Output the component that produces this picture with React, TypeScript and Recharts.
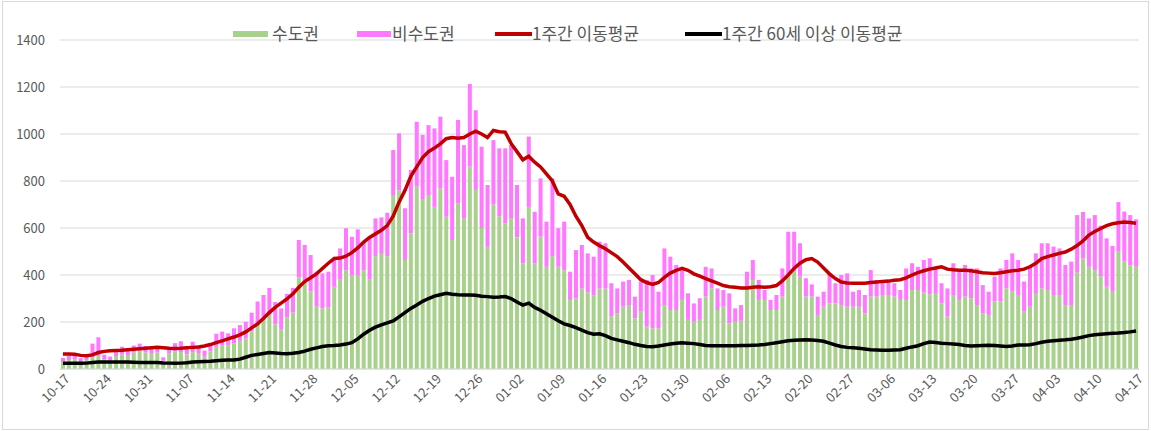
import { ComposedChart, Bar, Line, XAxis, YAxis, CartesianGrid } from "recharts";

// daily domestic cases, 2020-10-17 .. 2021-04-17
const START_DAY = Date.UTC(2020, 9, 17);
const DAY_COUNT = 183;

const capital = [
  30, 38, 40, 30, 38, 48, 55, 42, 35, 55,
  62, 60, 70, 78, 70, 68, 70, 35, 65, 75,
  72, 62, 72, 68, 52, 75, 95, 100, 100, 110,
  120, 130, 160, 190, 210, 230, 190, 170, 220, 240,
  390, 370, 330, 265, 258, 262, 350, 380, 420, 400,
  400, 420, 380, 480, 490, 480, 740, 760, 464, 577,
  776, 720, 740, 690, 769, 648, 549, 705, 641, 861,
  762, 600, 520, 700, 650, 620, 640, 560, 450, 690,
  450, 563, 435, 480, 435, 420, 294, 300, 342, 326,
  314, 342, 342, 223, 237, 265, 272, 216, 244, 180,
  173, 173, 272, 251, 251, 294, 209, 201, 209, 308,
  343, 251, 265, 194, 201, 205, 336, 379, 294, 294,
  251, 251, 308, 393, 414, 393, 308, 308, 230, 265,
  279, 279, 272, 265, 265, 265, 237, 308, 308, 315,
  315, 308, 294, 294, 336, 336, 325, 318, 320, 279,
  223, 315, 294, 308, 301, 272, 237, 230, 287, 287,
  343, 329, 315, 244, 265, 320, 343, 336, 315, 315,
  272, 272, 410, 470, 435, 420, 395, 350, 332, 502,
  457, 440, 435,
];

const nonCapital = [
  17, 20, 17, 16, 20, 60, 80, 19, 18, 30,
  33, 28, 30, 30, 28, 27, 27, 15, 27, 35,
  46, 27, 44, 32, 26, 35, 55, 59, 52, 63,
  67, 71, 80, 97, 105, 115, 95, 88, 100, 105,
  159, 158, 155, 149, 149, 152, 121, 133, 179, 163,
  194, 122, 180, 161, 155, 185, 192, 243, 220, 270,
  276, 276, 298, 334, 305, 241, 269, 355, 312, 352,
  339, 346, 263, 274, 289, 319, 313, 223, 191, 299,
  219, 248, 192, 331, 164, 207, 120, 206, 186, 166,
  164, 200, 193, 142, 106, 107, 107, 92, 128, 199,
  227, 156, 241, 227, 192, 127, 113, 78, 92, 127,
  85, 92, 71, 128, 57, 67, 78, 85, 85, 42,
  43, 64, 120, 191, 170, 142, 78, 52, 78, 64,
  128, 86, 128, 142, 64, 71, 78, 113, 71, 50,
  57, 57, 42, 134, 114, 99, 139, 153, 115, 86,
  120, 135, 120, 135, 127, 156, 120, 99, 106, 141,
  121, 163, 149, 128, 170, 172, 192, 199, 206, 198,
  171, 185, 245, 198, 206, 235, 215, 206, 192, 208,
  213, 215, 202,
];

const weekAvg = [
  64, 64, 63, 58, 56, 60, 70, 75, 78, 79,
  80, 82, 84, 86, 88, 90, 92, 90, 88, 87,
  88, 90, 92, 94, 98, 104, 112, 120, 128, 136,
  145, 158, 175, 192, 215, 240, 262, 280, 298, 320,
  348, 372, 388, 405, 428, 450, 470, 472, 480, 495,
  515, 540, 560, 575, 590, 610, 650, 710, 760, 820,
  860, 900, 925, 940, 958, 980, 985, 982, 985, 1000,
  1012, 1000, 985, 1015, 1010, 1008, 960, 925, 890, 905,
  880, 860, 830, 800, 745, 735, 700, 650, 610, 560,
  540, 525, 512, 495, 478, 455, 430, 405, 380, 368,
  360, 368, 390, 408, 420, 428, 420, 405, 395, 385,
  375, 365, 355, 350, 348, 345, 345, 348, 350, 348,
  350, 355, 375, 400, 428, 450, 465, 470, 455, 430,
  405, 385, 370, 366, 365, 365, 365, 368, 370, 372,
  374, 378, 380, 388, 400, 410, 418, 425, 430, 435,
  425, 422, 420, 420, 418, 414, 410, 408, 406, 410,
  414, 418, 420, 425, 435, 450, 470, 478, 485, 492,
  498, 510, 525, 545, 570, 585, 598, 610, 618, 622,
  625, 623, 620,
];

const weekAvg60 = [
  24, 24, 24, 24, 25, 28, 30, 30, 30, 30,
  30, 30, 29, 28, 28, 28, 28, 26, 25, 24,
  25, 27, 30, 31, 32, 33, 35, 37, 38, 38,
  42, 50, 58, 62, 66, 70, 68, 66, 65, 67,
  70, 76, 84, 90, 96, 99, 100, 102, 106, 112,
  128, 148, 165, 178, 188, 196, 205, 222, 240, 258,
  272, 288, 300, 310, 316, 322, 318, 316, 315, 315,
  314, 310, 308, 305, 306, 308, 300, 285, 272, 280,
  262, 250, 235, 220, 205, 192, 185, 176, 165, 155,
  148, 150, 142, 130, 124, 118, 112, 105, 100, 96,
  95, 98, 102, 106, 110, 112, 110, 108, 104, 100,
  99, 99, 99, 99, 99, 100, 100, 101, 102, 104,
  108, 112, 116, 120, 122, 123, 124, 123, 121, 118,
  110, 102, 96, 92, 90, 88, 85, 82, 81, 80,
  80, 81, 82, 88, 94, 99, 108, 115, 113, 110,
  108, 106, 104, 100, 98, 99, 100, 101, 100, 98,
  96, 98, 102, 102, 103, 108, 114, 118, 120, 122,
  124, 127, 131, 136, 142, 146, 148, 150, 152, 153,
  155, 158, 162,
];

const yTicks = [0, 200, 400, 600, 800, 1000, 1200, 1400];

const pad = (n: number) => String(n).padStart(2, "0");
const dates = Array.from({ length: DAY_COUNT }, (_, i) => {
  const d = new Date(START_DAY + i * 86400000);
  return `${pad(d.getUTCMonth() + 1)}-${pad(d.getUTCDate())}`;
});

const data = dates.map((date, i) => ({
  date,
  capital: capital[i],
  nonCapital: nonCapital[i],
  avg: weekAvg[i],
  avg60: weekAvg60[i],
}));

const FONT = '"Noto Sans CJK KR", "Noto Sans", sans-serif';
const GREEN = "#a9d18e";
const PINK = "#ff78ff";
const RED = "#c00000";

function DateTick(props: any) {
  const { x, y, payload } = props;
  return (
    <g transform={`translate(${x + 5},${y})`}>
      <text x={0} y={0} dy="0.3em" textAnchor="end" transform="rotate(-45)" fontSize={13} fill="#595959" fontFamily={FONT}>
        {payload.value}
      </text>
    </g>
  );
}

function ChartLegend() {
  const text = { position: "absolute" as const, top: 23, fontSize: 17, color: "#595959", lineHeight: "20px", whiteSpace: "nowrap" as const };
  const mark = { position: "absolute" as const };
  return (
    <div style={{ position: "absolute", left: 0, top: 0 }}>
      <div style={{ ...mark, left: 233, top: 31, width: 35, height: 6, background: GREEN }} />
      <span style={{ ...text, left: 272 }}>수도권</span>
      <div style={{ ...mark, left: 357, top: 31, width: 34, height: 6, background: PINK }} />
      <span style={{ ...text, left: 392 }}>비수도권</span>
      <div style={{ ...mark, left: 495, top: 32, width: 37, height: 4, background: RED }} />
      <span style={{ ...text, left: 532 }}>1주간 이동평균</span>
      <div style={{ ...mark, left: 685, top: 32, width: 37, height: 4, background: "#000" }} />
      <span style={{ ...text, left: 722 }}>1주간 60세 이상 이동평균</span>
    </div>
  );
}

export default function App() {
  return (
    <div style={{ position: "absolute", left: 0, top: 0, width: 1151, height: 431, background: "#fff", fontFamily: FONT }}>
      <div style={{ position: "absolute", left: 2, top: 1, width: 1145, height: 427, border: "1px solid #d9d9d9" }} />
      <ComposedChart width={1151} height={431} data={data} margin={{ top: 40, right: 12, bottom: 7, left: 10 }}>
        <CartesianGrid vertical={false} stroke="#d9d9d9" />
        <XAxis
          dataKey="date"
          interval={6}
          tick={<DateTick />}
          tickLine={false}
          axisLine={{ stroke: "#d9d9d9" }}
          height={55}
        />
        <YAxis
          domain={[0, 1400]}
          ticks={yTicks}
          width={50}
          tickLine={false}
          axisLine={false}
          tickMargin={9}
          tick={{ fontSize: 13, fill: "#595959", fontFamily: FONT }}
        />
        <Bar dataKey="capital" name="수도권" stackId="cases" fill={GREEN} barSize={4} isAnimationActive={false} />
        <Bar dataKey="nonCapital" name="비수도권" stackId="cases" fill={PINK} barSize={4} isAnimationActive={false} />
        <Line dataKey="avg" name="1주간 이동평균" type="linear" stroke={RED} strokeWidth={3.5} dot={false} isAnimationActive={false} />
        <Line dataKey="avg60" name="1주간 60세 이상 이동평균" type="linear" stroke="#000" strokeWidth={3.5} dot={false} isAnimationActive={false} />
      </ComposedChart>
      <ChartLegend />
    </div>
  );
}
